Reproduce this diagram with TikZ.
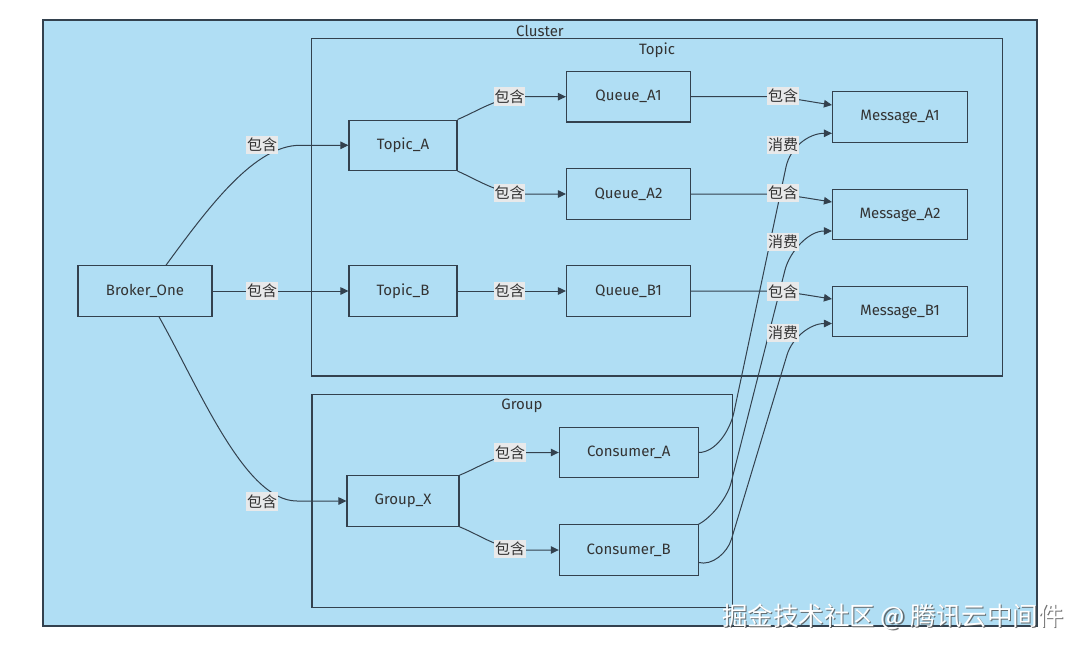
\documentclass[tikz,border=0pt]{standalone}
\usepackage{fontspec}
\setmainfont{Fira Sans}
\newfontfamily\cjk{Noto Sans CJK SC}
\usetikzlibrary{arrows.meta}
\definecolor{bluebg}{RGB}{176,222,244}
\definecolor{edgecol}{RGB}{51,65,78}
\definecolor{lblbg}{RGB}{232,233,234}
\definecolor{txt}{RGB}{51,51,51}
\definecolor{shadowcol}{RGB}{80,80,80}
\tikzset{
  box/.style={draw=edgecol, fill=bluebg, line width=1.1pt, minimum height=50.5pt, inner sep=0pt, text=txt, font=\fontsize{15}{18}\selectfont},
  subg/.style={draw=edgecol, fill=bluebg, line width=1.1pt},
  title/.style={text=txt, inner sep=0pt, font=\fontsize{15}{18}\selectfont},
  lab/.style={fill=lblbg, inner xsep=0.6pt, inner ysep=2.5pt, text=txt, font=\cjk\fontsize{15}{18}\selectfont},
  arr/.style={draw=edgecol, line width=1pt, -{Triangle[length=8pt,width=7.5pt]}},
  wmk/.style={inner sep=0pt, font=\cjk\fontsize{25.5}{30}\selectfont}
}
\begin{document}
\begin{tikzpicture}[x=1pt,y=-1pt]
\useasboundingbox (0,0) rectangle (1080,651);
\fill[white] (0,0) rectangle (1080,651);
% clusters
\draw[subg] (43,20) rectangle (1037,626);
\node[title] (tcluster) at (540,31) {Cluster};
\draw[subg] (311.6,38.7) rectangle (1002.5,376);
\node[title] (ttopic) at (657,50) {Topic};
\draw[subg] (312,394.7) rectangle (732.8,607.3);
\node[title] (tgroup) at (522,406) {Group};
% nodes
\node[box, minimum width=134pt] (bro) at (145,291) {Broker\_One};
\node[box, minimum width=108pt] (ta) at (403,145.3) {Topic\_A};
\node[box, minimum width=108pt] (tb) at (403,291) {Topic\_B};
\node[box, minimum width=124pt] (qa1) at (628.5,96.7) {Queue\_A1};
\node[box, minimum width=124pt] (qa2) at (628.5,194) {Queue\_A2};
\node[box, minimum width=124pt] (qb1) at (628.5,291) {Queue\_B1};
\node[box, minimum width=135pt] (ma1) at (900,117) {Message\_A1};
\node[box, minimum width=135pt] (ma2) at (900,214.5) {Message\_A2};
\node[box, minimum width=135pt] (mb1) at (900,311.5) {Message\_B1};
\node[box, minimum width=112pt] (gx) at (403,501) {Group\_X};
\node[box, minimum width=138.7pt] (ca) at (628.7,452.5) {Consumer\_A};
\node[box, minimum width=138.7pt] (cb) at (628.7,550) {Consumer\_B};
% edges
\draw[arr] ([xshift=21pt]bro.north) .. controls (210,205) and (255,145.3) .. (300,145.3) -- (ta.west);
\draw[arr] (bro.east) -- (tb.west);
\draw[arr] ([xshift=14pt]bro.south) .. controls (200,390) and (245,501) .. (297,501) -- (gx.west);
\draw[arr] (ta.north east) .. controls (480,110) and (498,96.7) .. (525,96.7) -- (qa1.west);
\draw[arr] (ta.south east) .. controls (480,181) and (498,194) .. (525,194) -- (qa2.west);
\draw[arr] (tb.east) -- (qb1.west);
\draw[arr] (gx.north east) .. controls (482,466) and (500,452.5) .. (526,452.5) -- (ca.west);
\draw[arr] (gx.south east) .. controls (482,536) and (500,550) .. (526,550) -- (cb.west);
\draw[arr] (qa1.east) -- (765,96.7) .. controls (785,96.7) and (800,100) .. ([yshift=12pt]ma1.west);
\draw[arr] (qa2.east) -- (765,194) .. controls (785,194) and (800,197) .. ([yshift=12.5pt]ma2.west);
\draw[arr] (qb1.east) -- (765,291) .. controls (785,291) and (800,294) .. ([yshift=12.5pt]mb1.west);
\draw[arr] (ca.east) .. controls (716,452.5) and (730.2,430) .. (734,412) -- (786,167) .. controls (790,148) and (808,133.3) .. ([yshift=-16.3pt]ma1.west);
\draw[arr] (cb.north east) .. controls (711,518) and (727.2,498) .. (731,483) -- (785,270) .. controls (789.6,252) and (808,231) .. ([yshift=-16.5pt]ma2.west);
\draw[arr] ([yshift=-12.5pt]cb.east) .. controls (712,566) and (727.3,553) .. (731.5,539) -- (787,355) .. controls (792.1,338) and (810,323.5) .. ([yshift=-12pt]mb1.west);
% edge labels
\node[lab] (l1) at (262,145) {包含};
\node[lab] (l2) at (262,291) {包含};
\node[lab] (l3) at (262,501.5) {包含};
\node[lab] (l4) at (509.5,96.7) {包含};
\node[lab] (l5) at (509.5,193) {包含};
\node[lab] (l6) at (509.5,291) {包含};
\node[lab] (l7) at (510,452.5) {包含};
\node[lab] (l8) at (510,549) {包含};
\node[lab] (l9) at (783,96) {包含};
\node[lab] (l10) at (783,193) {包含};
\node[lab] (l11) at (783,291.5) {包含};
\node[lab] (l12) at (783,145) {消费};
\node[lab] (l13) at (783,242) {消费};
\node[lab] (l14) at (783,333) {消费};
% watermark
\node[wmk, text=shadowcol, opacity=0.8] (wms) at (894.2,618) {掘金技术社区 @ 腾讯云中间件};
\node[wmk, text=white] (wm) at (893,616.8) {掘金技术社区 @ 腾讯云中间件};
\end{tikzpicture}
\end{document}
